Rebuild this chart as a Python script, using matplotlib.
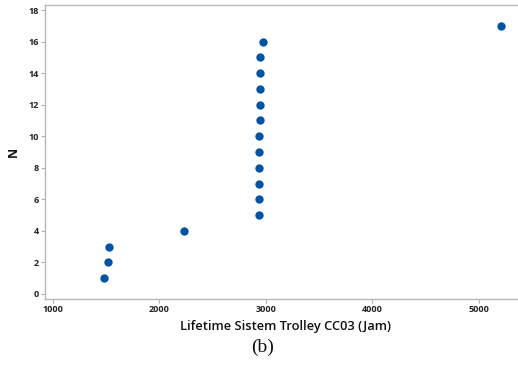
import matplotlib
matplotlib.use("Agg")
import matplotlib.pyplot as plt

# lifetime (hours) and rank N
lifetime = [1480, 1519, 1529, 2233, 2930, 2932, 2934, 2936, 2937, 2938, 2940, 2941, 2942, 2943, 2944, 2972, 5207]
n_rank = [1, 2, 3, 4, 5, 6, 7, 8, 9, 10, 11, 12, 13, 14, 15, 16, 17]
xticks = [1000, 2000, 3000, 4000, 5000]
yticks = [0, 2, 4, 6, 8, 10, 12, 14, 16, 18]

plt.rcParams['font.family'] = ['Open Sans', 'DejaVu Sans']

fig = plt.figure(figsize=(5.18, 3.68), dpi=100)
# right edge of the frame runs off the picture
ax = fig.add_axes([45/518, 69/368, 480/518, 294/368])

ax.plot(lifetime, n_rank, 'o', color='#0053a4', markersize=6, markeredgewidth=0)

ax.set_xlim(925, 5432)
ax.set_ylim(-0.32, 18.32)
ax.set_xticks(xticks)
ax.set_yticks(yticks)
ax.tick_params(axis='both', labelsize=6.5, color='#b0b0b0', length=3, width=0.8, pad=1.5)
for lab in ax.get_xticklabels() + ax.get_yticklabels():
    lab.set_fontweight('bold')
    lab.set_color('#222222')

for side in ['left', 'bottom', 'top']:
    ax.spines[side].set_color('#b8b8b8')
    ax.spines[side].set_linewidth(1.0)
ax.spines['right'].set_visible(False)

ax.set_xlabel("Lifetime Sistem Trolley CC03 (Jam)", fontsize=9.3, fontweight='semibold',
              color='#111111', labelpad=4)
ax.set_ylabel("N", fontsize=9, fontweight='bold', color='#111111', labelpad=6)

fig.text(263/518, 1 - 347/368, "(b)", ha='center', va='center', fontsize=14,
         family='Liberation Serif', color='#111111')

fig.savefig("out.png", dpi=100)
